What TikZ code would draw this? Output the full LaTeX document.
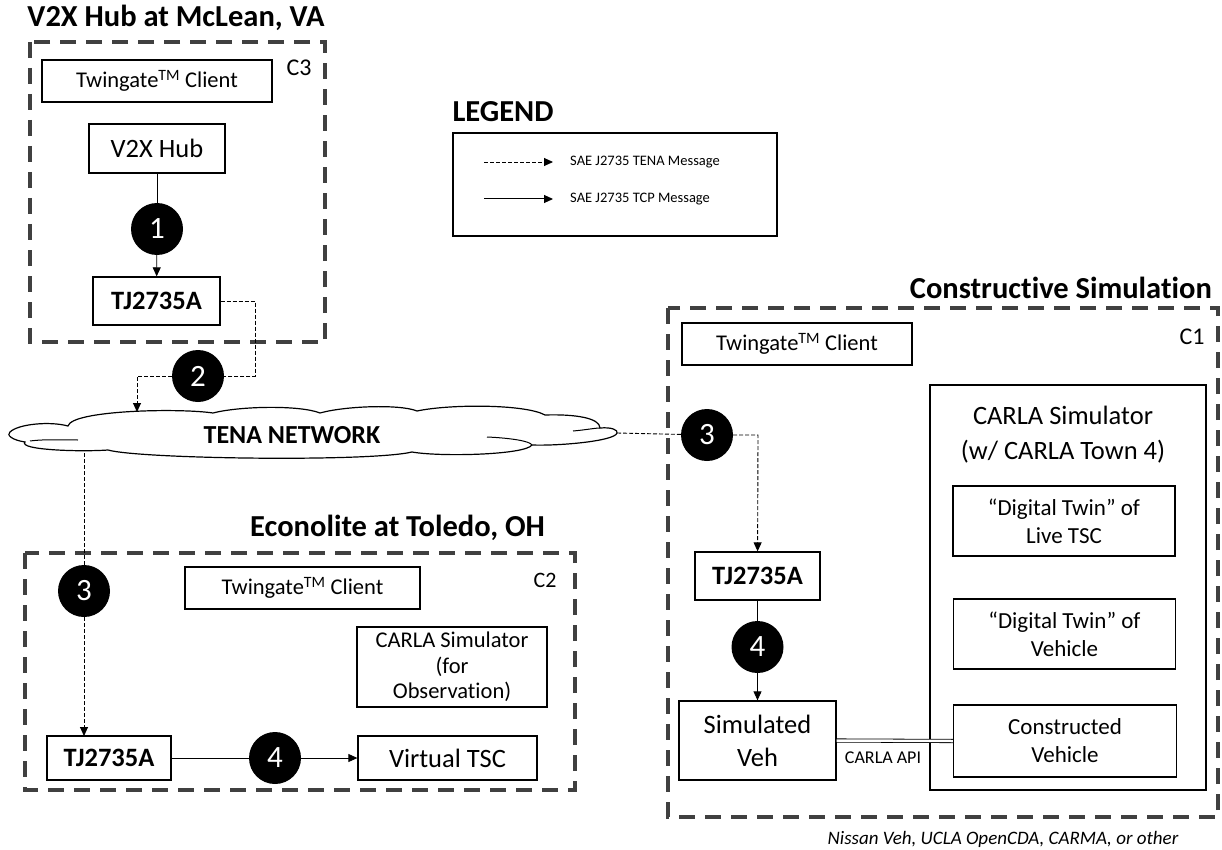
\documentclass[tikz,border=0pt]{standalone}
\usepackage{fontspec}
\setmainfont{Carlito}[RawFeature={-liga;-dlig;-calt;-clig;-hlig}]
\usetikzlibrary{arrows.meta}
\definecolor{grpgray}{HTML}{404040}
\newcommand{\fs}[2]{\fontsize{#1}{#2}\selectfont}
\begin{document}
\begin{tikzpicture}[x=1pt,y=-1pt,
  grp/.style={draw=grpgray,line width=4pt,dash pattern=on 16pt off 10pt},
  box/.style={draw,line width=1.3pt,inner sep=0pt,align=center,fill=white},
  num/.style={circle,fill=black,text=white,minimum size=52pt,inner sep=0pt,font=\fs{31}{31}},
  title/.style={font=\bfseries\fs{30.5}{34},inner sep=0pt},
  msg/.style={line width=0.8pt},
  tenamsg/.style={line width=0.9pt,dash pattern=on 4pt off 2pt},
  tip/.style={-{Triangle[length=9pt,width=8pt]}},
  lbl/.style={inner sep=0pt}]
\useasboundingbox (0,0) rectangle (1222,850);

% ---------- C3 : V2X Hub ----------
\node[title] (t3) at (176,18) {V2X Hub at McLean, VA};
\draw[grp] (30,42) rectangle (325,342);
\node[lbl,font=\fs{24}{28}] (c3l) at (299,68) {C3};
\node[box,minimum width=230pt,minimum height=42pt,font=\fs{22.5}{26}] (tw3) at (157,81) {Twingate\textsuperscript{TM} Client};
\node[box,minimum width=136pt,minimum height=49pt,font=\fs{26.5}{30}] (v2x) at (157,148.5) {V2X Hub};
\node[num] (n1) at (157,229) {1};
\node[box,minimum width=127pt,minimum height=48pt,font=\bfseries\fs{26.5}{30}] (tj3) at (156.5,301) {TJ2735A};
\draw[msg] (v2x) -- (n1);
\draw[msg,tip] (n1) -- (tj3);

% ---------- Legend ----------
\node[title] (leg) at (503,112) {LEGEND};
\draw[line width=1.3pt] (453,133) rectangle (777,236);
\coordinate (la1) at (484,162); \coordinate (la2) at (553,162);
\coordinate (lb1) at (484,199); \coordinate (lb2) at (553,199);
\draw[tenamsg,tip] (la1) -- (la2);
\draw[msg,line width=1pt,tip] (lb1) -- (lb2);
\node[lbl,anchor=west,font=\fs{14.5}{17}] (lt1) at (570,162) {SAE J2735 TENA Message};
\node[lbl,anchor=west,font=\fs{14.5}{17}] (lt2) at (570,199) {SAE J2735 TCP Message};

% ---------- Cloud ----------
\draw[line width=1.2pt,fill=white]
 (10,432) .. controls (18,424) and (50,421) .. (68,426)
 .. controls (72,410) and (180,408) .. (213,413)
 .. controls (240,406) and (300,405) .. (320,413)
 .. controls (345,406) and (400,404) .. (417,411)
 .. controls (450,404) and (525,404) .. (545,415)
 .. controls (575,414) and (600,418) .. (600,428)
 .. controls (612,427) and (618,430) .. (617,433)
 .. controls (615,441) and (560,446) .. (532,445)
 .. controls (525,455) and (440,457) .. (412,452)
 .. controls (370,462) and (140,459) .. (108,450)
 .. controls (80,452) and (18,450) .. (25,442)
 .. controls (12,440) and (6,435) .. (10,432) -- cycle;
\draw[line width=1pt] (30,441) .. controls (45,439) and (65,440) .. (78,440);
\draw[line width=1pt] (487,437) .. controls (510,438) and (530,441) .. (532,445);
\draw[line width=1pt] (573,431) .. controls (585,430) and (595,428) .. (600,428);
\node[lbl,font=\bfseries\fs{26}{30}] (tena) at (292,435) {TENA NETWORK};
\coordinate (cltop) at (137,412);
\coordinate (clright) at (617,433);
\coordinate (clbot) at (84,453);

% TJ2735A (C3) -> cloud
\node[num] (n2) at (198,376) {2};
\coordinate (k1) at (255,301);
\coordinate (k2) at (255,376);
\coordinate (k3) at (137,376);
\draw[tenamsg] (tj3.east) -- (k1) -- (k2) -- (n2);
\draw[tenamsg,tip] (n2) -- (k3) -- (cltop);

% ---------- C2 : Econolite ----------
\node[title,anchor=east] (t2) at (545,528) {Econolite at Toledo, OH};
\draw[grp] (25,553) rectangle (575,790);
\node[lbl,font=\fs{22}{26}] (c2l) at (545,580) {C2};
\node[box,minimum width=235pt,minimum height=42pt,font=\fs{22.5}{26}] (tw2) at (302.5,588) {Twingate\textsuperscript{TM} Client};
\node[box,minimum width=190pt,minimum height=80pt,font=\fs{22.5}{25.5}] (cobs) at (452,667) {CARLA Simulator\\(for\\Observation)};
\node[box,minimum width=179pt,minimum height=44pt,font=\fs{26.5}{30}] (vtsc) at (447.5,758) {Virtual TSC};
\node[box,minimum width=124pt,minimum height=44pt,font=\bfseries\fs{26.5}{30}] (tj2) at (109,758) {TJ2735A};
\node[num] (n3b) at (84,591) {3};
\node[num] (n4b) at (275,758) {4};
\coordinate (tj2in) at (84,736);
\draw[tenamsg] (clbot) -- (n3b);
\draw[tenamsg,tip] (n3b) -- (tj2in);
\draw[msg] (tj2) -- (n4b);
\draw[msg,tip] (n4b) -- (vtsc);

% ---------- C1 : Constructive Simulation ----------
\node[title,anchor=east] (t1) at (1212,288) {Constructive Simulation};
\draw[grp] (668,308) rectangle (1218,817);
\node[lbl,font=\fs{24}{28}] (c1l) at (1192,337) {C1};
\node[box,minimum width=230pt,minimum height=42pt,font=\fs{22.5}{26}] (tw1) at (797,344) {Twingate\textsuperscript{TM} Client};
\node[num] (n3c) at (707,435) {3};
\node[box,minimum width=125pt,minimum height=48pt,font=\bfseries\fs{26.5}{30}] (tj1) at (757.5,576) {TJ2735A};
\node[num] (n4c) at (757.5,647) {4};
\node[box,minimum width=157pt,minimum height=79pt,font=\fs{26.5}{33}] (simv) at (757.5,740.5) {Simulated\\Veh};
\node[box,minimum width=276pt,minimum height=405pt] (carla) at (1068,587.5) {};
\node[lbl,align=center,font=\fs{26.5}{35}] (carlat) at (1063,434.5) {CARLA Simulator\\(w/ CARLA Town 4)};
\node[box,minimum width=222pt,minimum height=70pt,font=\fs{23}{28}] (dtl) at (1064,521) {``Digital Twin'' of\\Live TSC};
\node[box,minimum width=222pt,minimum height=70pt,font=\fs{23}{28}] (dtv) at (1064.5,634) {``Digital Twin'' of\\Vehicle};
\node[box,minimum width=223pt,minimum height=72pt,font=\fs{23}{28}] (cveh) at (1065,741) {Constructed\\Vehicle};
\coordinate (m1) at (758,435);
\draw[tenamsg] (clright) -- (n3c);
\draw[tenamsg,tip] (n3c) -- (m1) -- (tj1);
\draw[msg] (tj1) -- (n4c);
\draw[msg,tip] (n4c) -- (simv);
\draw[line width=0.8pt,double,double distance=2.5pt] (simv.east) -- (cveh.west);
\node[lbl,font=\fs{18}{22}] (api) at (883,758) {CARLA API};
\node[lbl,font=\itshape\fs{19}{22}] (note) at (1003,839) {Nissan Veh, UCLA OpenCDA, CARMA, or other};
\end{tikzpicture}
\end{document}
